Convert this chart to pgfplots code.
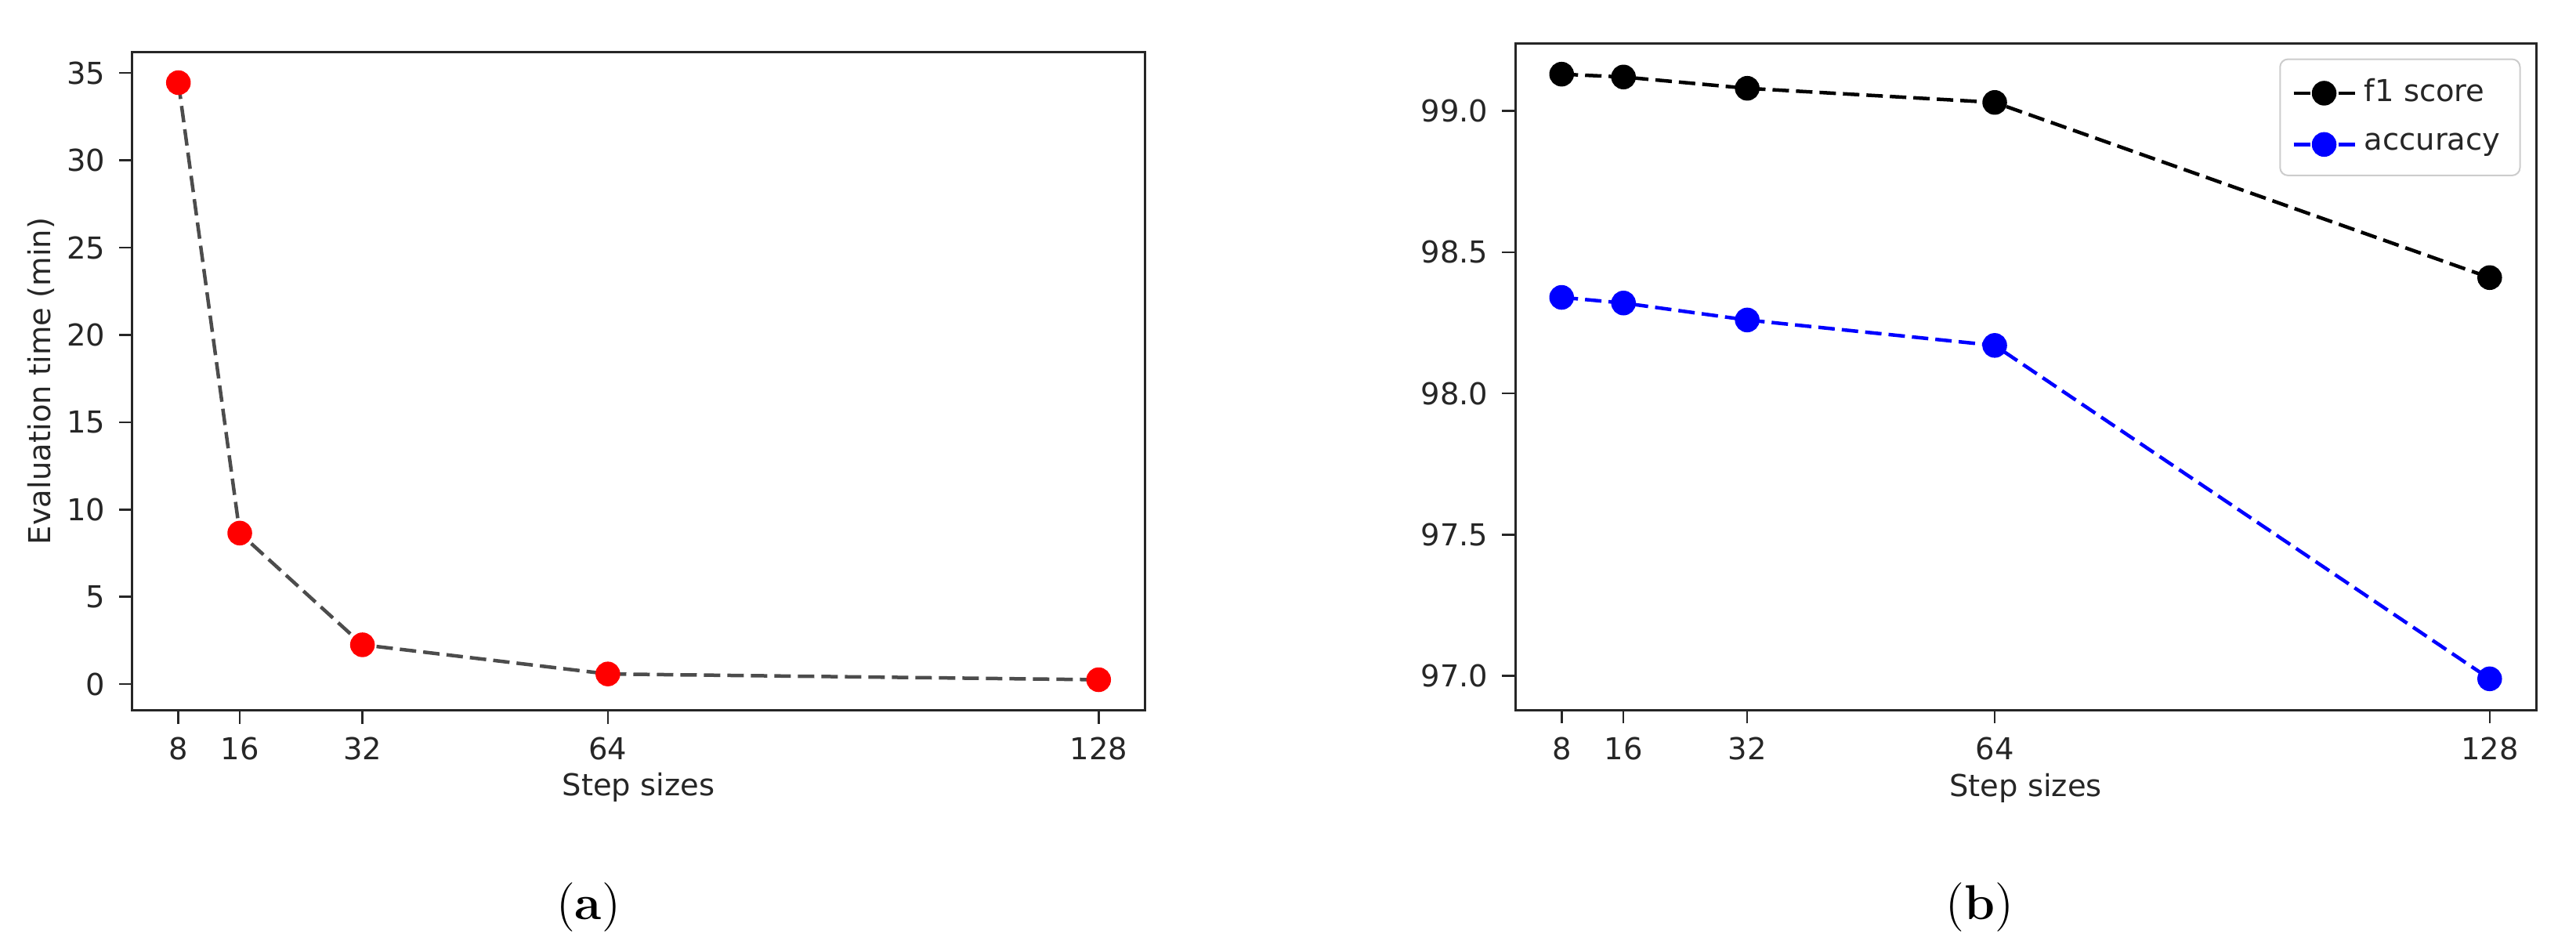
\documentclass[border=0pt]{standalone}
\usepackage{fontspec}
\setsansfont{DejaVu Sans}
\usepackage{pgfplots}
\pgfplotsset{compat=1.18}

\newcommand{\tickfont}{\sffamily\fontsize{7.7}{9}\selectfont}

\pgfplotsset{
  stepaxis/.style={
    scale only axis,
    anchor=south west,
    xmin=2, xmax=134,
    xtick={8,16,32,64,128},
    xtick pos=lower, ytick pos=left,
    tick align=outside,
    major tick length=3.4pt,
    axis line style={black!85, line width=0.6pt},
    tick style={black!85, line width=0.5pt},
    tick label style={font=\tickfont, text=black!85, /pgf/number format/assume math mode=true},
    label style={font=\tickfont, text=black!85},
    xlabel={Step sizes},
    xlabel style={at={(axis description cs:0.5,-0.13)}, anchor=base},
  },
  dashline/.style={line width=0.9pt, dash pattern=on 4.2pt off 1.8pt,
    mark=*, mark size=2.7pt},
}

\begin{document}
\begin{tikzpicture}
% (a) evaluation time
\begin{axis}[stepaxis,
  at={(33.8pt,-181.3pt)},
  width=258.4pt, height=168pt,
  ymin=-1.5, ymax=36.2,
  ytick={0,5,...,35},
  ylabel={Evaluation time (min)},
  ylabel style={at={(axis description cs:-0.09,0.5)}, rotate=0, anchor=center},
]
\addplot[dashline, black!70, mark options={solid, fill=red, draw=red}]
  coordinates {(8,34.45) (16,8.65) (32,2.25) (64,0.58) (128,0.25)};
\end{axis}

% (b) f1 score and accuracy
\begin{axis}[stepaxis,
  at={(386.8pt,-181.2pt)},
  width=260.6pt, height=170.2pt,
  ymin=96.88, ymax=99.24,
  ytick={97,97.5,98,98.5,99},
  yticklabel style={/pgf/number format/.cd, fixed, fixed zerofill, precision=1},
  legend style={at={(rel axis cs:0.985,0.977)}, anchor=north east,
    draw=black!20, rounded corners=2pt, font=\tickfont, text=black!85,
    row sep=2.5pt, inner xsep=3pt, inner ysep=3pt},
  legend cell align=left,
  legend image code/.code={
    \draw[solid] (0pt,0pt) -- (4.2pt,0pt);
    \draw[solid] (11.4pt,0pt) -- (15.6pt,0pt);
    \draw[only marks] plot coordinates {(7.8pt,0pt)};
  },
]
\addplot[dashline, black, mark options={solid, fill=black}]
  coordinates {(8,99.13) (16,99.12) (32,99.08) (64,99.03) (128,98.41)};
\addlegendentry{f1 score}
\addplot[dashline, blue, mark options={solid, fill=blue}]
  coordinates {(8,98.34) (16,98.32) (32,98.26) (64,98.17) (128,96.99)};
\addlegendentry{accuracy}
\end{axis}

\node[font=\rmfamily\fontsize{12.5}{14}\selectfont] at (150.2pt,-231.5pt) {(\textbf{a})};
\node[font=\rmfamily\fontsize{12.5}{14}\selectfont] at (505.4pt,-231.5pt) {(\textbf{b})};

\pgfresetboundingbox
\path[use as bounding box] (0,0) rectangle (657.6pt,-243pt);
\end{tikzpicture}
\end{document}
